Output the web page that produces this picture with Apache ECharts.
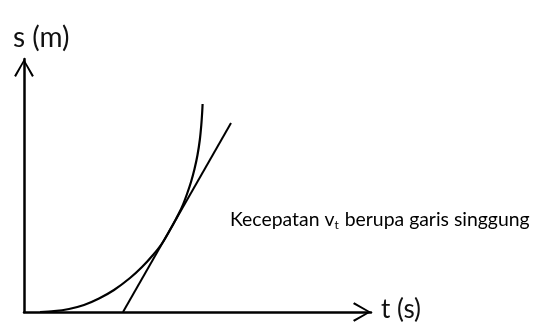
<!DOCTYPE html>
<html>
<head>
<meta charset="utf-8">
<script src="https://cdn.jsdelivr.net/npm/echarts@6/dist/echarts.min.js"></script>
<style>
  html, body { margin: 0; padding: 0; background: #fff; }
  #chart { width: 538px; height: 329px; }
</style>
</head>
<body>
<div id="chart"></div>
<script>
// jarak s terhadap waktu t (satuan bebas)
const curveT = [16, 30, 45, 60, 75, 90, 106, 118, 129, 138, 146, 152, 158, 163, 167, 170.5, 173.5, 175.8, 177.3, 178.2, 178.6]
const curveS = [0, 0.8, 3, 7, 13.5, 22, 34, 45, 57, 68.5, 82, 93, 105, 118, 130, 143, 157, 172, 187, 200, 208]
// garis singgung (dua titik ujung)
const tangentT = [99, 207]
const tangentS = [0, 189]

const axisMaxT = 347
const axisMaxS = 253

const chart = echarts.init(document.getElementById('chart'))

const chevron = 'path://M10,0 L20,17 L18.2,18.3 L10,3.4 L1.8,18.3 L0,17 Z'
const axisLine = {
  show: true,
  symbol: ['none', chevron],
  symbolSize: [21, 18],
  symbolOffset: [0, -9],
  lineStyle: { color: '#000', width: 2.5 },
}

chart.setOption({
  animation: false,
  grid: { left: 24, right: 538 - 24 - axisMaxT, top: 329 - 17 - axisMaxS, bottom: 17 },
  xAxis: {
    type: 'value',
    min: 0,
    max: axisMaxT,
    axisLine: axisLine,
    axisTick: { show: false },
    axisLabel: { show: false },
    splitLine: { show: false },
  },
  yAxis: {
    type: 'value',
    min: 0,
    max: axisMaxS,
    axisLine: axisLine,
    axisTick: { show: false },
    axisLabel: { show: false },
    splitLine: { show: false },
  },
  graphic: [
    {
      type: 'text',
      left: 13,
      top: 24,
      style: { text: 's (m)', font: '28px Lato', fill: '#111' },
    },
    {
      type: 'text',
      left: 381,
      top: 297,
      style: { text: 't (s)', font: '26px Lato', fill: '#111' },
    },
    {
      type: 'text',
      left: 230,
      top: 210,
      style: {
        text: '{a|Kecepatan v}{b|t}{a| berupa garis singgung}',
        rich: {
          a: { fontFamily: 'Lato', fontSize: 19.4, color: '#111', lineHeight: 24 },
          b: { fontFamily: 'Lato', fontSize: 12, color: '#111', lineHeight: 24, verticalAlign: 'bottom', padding: [7, 1, 0, 0] },
        },
      },
    },
  ],
  series: [
    {
      name: 's(t)',
      type: 'line',
      data: curveT.map((t, i) => [t, curveS[i]]),
      smooth: 0.3,
      showSymbol: false,
      lineStyle: { color: '#000', width: 2.2 },
    },
    {
      name: 'garis singgung',
      type: 'line',
      data: tangentT.map((t, i) => [t, tangentS[i]]),
      showSymbol: false,
      lineStyle: { color: '#000', width: 2 },
    },
  ],
})
</script>
</body>
</html>
